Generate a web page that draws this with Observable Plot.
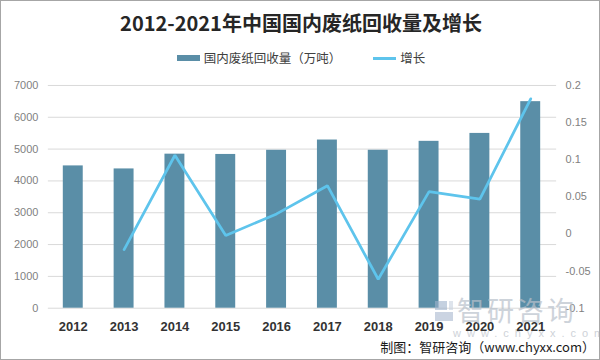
<!DOCTYPE html>
<html>
<head>
<meta charset="utf-8">
<script src="https://cdn.jsdelivr.net/npm/d3@7"></script>
<script src="https://cdn.jsdelivr.net/npm/@observablehq/plot@0.6"></script>
<style>
  html, body { margin: 0; padding: 0; background: #fff; }
  #wrap { position: relative; width: 600px; height: 360px; box-sizing: border-box; border: 1px solid #a6a6a6; overflow: hidden; background: #fff; font-family: "Noto Sans CJK SC", "Liberation Sans", sans-serif; }
  #title { position: absolute; left: 0; top: 8px; width: 600px; text-align: center; font-size: 20px; font-weight: bold; color: #262626; line-height: 28px; }
  #legend { position: absolute; left: 0; top: 48px; width: 600px; display: flex; justify-content: center; align-items: center; font-size: 12.5px; color: #404040; line-height: 18px; }
  .sw { display: inline-block; width: 23px; margin-right: 4px; }
  #chart { position: absolute; left: 0; top: 72px; }
  #caption { position: absolute; right: 4px; top: 337px; font-size: 13px; color: #1a1a1a; line-height: 18px; }
  #logo { position: absolute; left: 434px; top: 300px; width: 18px; height: 20px; opacity: 0.6; }
  #logo .a { position: absolute; left: 0; top: 0; width: 12px; height: 9px; background: #9fb3cc; }
  #logo .b { position: absolute; left: 0; top: 11px; width: 18px; height: 9px; background: #a9b9cf; }
  #logo .c { position: absolute; left: 14px; top: 0; width: 4px; height: 9px; background: #c9d3e0; }
  #wm { position: absolute; left: 456px; top: 294px; color: #b9c1cb; opacity: 0.7; font-size: 27px; line-height: 30px; letter-spacing: 3px; }
  #wm2 { position: absolute; left: 452px; top: 326px; color: #c3c8cf; opacity: 0.8; font-size: 11px; letter-spacing: 6px; font-family: "Liberation Sans", sans-serif; }
</style>
</head>
<body>
<div id="wrap">
  <div id="title"></div>
  <div id="legend"></div>
  <div id="chart"></div>
  <div id="logo"><div class="a"></div><div class="c"></div><div class="b"></div></div>
  <div id="wm">智研咨询</div>
  <div id="wm2">www.chyxx.com</div>
  <div id="caption"></div>
</div>
<script>
const titleText = "2012-2021年中国国内废纸回收量及增长";
const seriesBarName = "国内废纸回收量（万吨）";
const seriesLineName = "增长";
const captionText = "制图：智研咨询（www.chyxx.com）";
const years = ["2012","2013","2014","2015","2016","2017","2018","2019","2020","2021"];
const recovery = [4472, 4377, 4841, 4832, 4963, 5285, 4964, 5244, 5493, 6491];
const growth = [null, -0.021, 0.106, -0.002, 0.027, 0.065, -0.061, 0.057, 0.047, 0.182];
const leftTicks = [0, 1000, 2000, 3000, 4000, 5000, 6000, 7000];
const rightTicks = [-0.1, -0.05, 0, 0.05, 0.1, 0.15, 0.2];

const barColor = "#5a8ea7";
const lineColor = "#5ec4ec";

document.getElementById("title").textContent = titleText;
document.getElementById("caption").textContent = captionText;
const legend = document.getElementById("legend");
legend.innerHTML =
  `<span class="sw" style="height:6px;background:${barColor}"></span><span>${seriesBarName}</span>` +
  `<span style="display:inline-block;width:32px"></span>` +
  `<span class="sw" style="height:3px;background:${lineColor}"></span><span>${seriesLineName}</span>`;

// map right-axis value onto left-axis scale
const rMin = -0.1, rMax = 0.2, lMax = 7000;
const f = v => (v - rMin) / (rMax - rMin) * lMax;
const finv = y => Math.round((y / lMax * (rMax - rMin) + rMin) * 1000) / 1000;

const data = years.map((y, i) => ({year: y, value: recovery[i], growth: growth[i]}));
const lineData = data.filter(d => d.growth != null);

const chart = Plot.plot({
  width: 600,
  height: 288,
  marginTop: 12,
  marginBottom: 52.5,
  marginLeft: 47,
  marginRight: 43,
  style: {fontFamily: "'Liberation Sans', 'Noto Sans CJK SC', sans-serif", background: "transparent"},
  x: {type: "band", domain: years, paddingInner: 0.6, paddingOuter: 0.3, label: null},
  y: {domain: [0, 7000], label: null},
  marks: [
    Plot.ruleY(leftTicks, {stroke: "#d9d9d9", strokeWidth: 1}),
    Plot.barY(data, {x: "year", y: "value", fill: barColor}),
    Plot.line(lineData, {x: "year", y: d => f(d.growth), stroke: lineColor, strokeWidth: 2.75, strokeLinejoin: "miter"}),
    Plot.axisY(leftTicks, {anchor: "left", tickSize: 0, tickPadding: 10, fontSize: 11, fill: "#7f7f7f", label: null, tickFormat: d => String(d)}),
    Plot.axisY(rightTicks.map(f), {anchor: "right", tickSize: 0, tickPadding: 9, fontSize: 11, fill: "#7f7f7f", label: null, tickFormat: d => String(finv(d))}),
    Plot.axisX({tickSize: 0, tickPadding: 14, fontSize: 13, fontWeight: "bold", fill: "#333", label: null})
  ]
});
document.getElementById("chart").appendChild(chart);
</script>
</body>
</html>
